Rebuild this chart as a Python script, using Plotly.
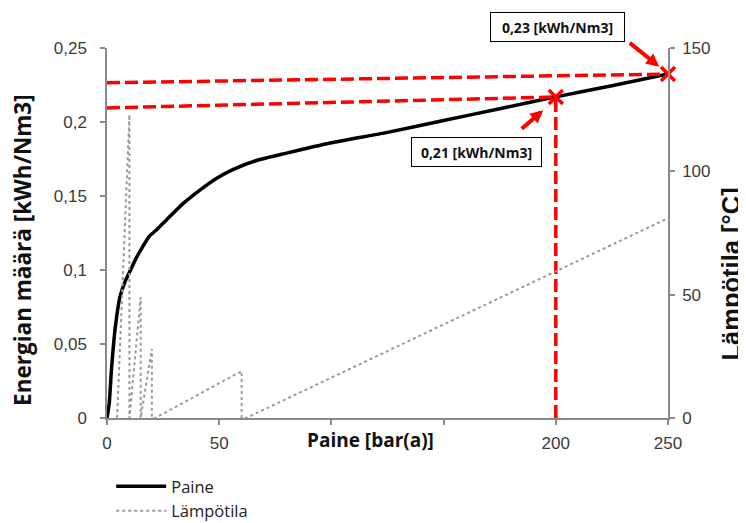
import plotly.graph_objects as go

# --- Data ---
paine_x = [0, 1, 2, 3.6, 5.8, 8, 10.5, 13, 16, 19, 22, 26.6, 34, 41.4, 48.9, 56.3,
           66.7, 80, 100, 125, 150, 175, 200, 225, 250]
paine_y = [0, 0.010, 0.033, 0.060, 0.082, 0.092, 0.100, 0.108, 0.116, 0.123, 0.127,
           0.134, 0.145, 0.154, 0.162, 0.168, 0.174, 0.179, 0.186, 0.193, 0.201,
           0.209, 0.217, 0.2245, 0.2324]

temp_x = [4.5, 10, 10, 15, 15, 20, 20, 21.5, 60, 60, 62, 250]
temp_y = [0, 123, 0, 49, 0, 28, 0, 0, 19, 0, 0, 81]

marker_x = [200, 250]
marker_y = [0.2169, 0.2324]

guide_top_x = [0, 250]
guide_top_y = [0.2265, 0.2324]
guide_low_x = [0, 200]
guide_low_y = [0.2095, 0.2169]
guide_vert_x = [200, 200]
guide_vert_y = [0, 0.2169]

x_tickvals = [0, 50, 100, 150, 200, 250]
x_ticktext = ["0", "50", "", "", "200", "250"]
y_tickvals = [0, 0.05, 0.1, 0.15, 0.2, 0.25]
y_ticktext = ["0", "0,05", "0,1", "0,15", "0,2", "0,25"]
y2_tickvals = [0, 50, 100, 150]
y2_ticktext = ["0", "50", "100", "150"]

label_top = "0,23 [kWh/Nm3]"
label_low = "0,21 [kWh/Nm3]"

RED = "#ff0000"
AXIS = "#8a8a8a"
TICKFONT = dict(family="Liberation Sans, Arial", size=17, color="#3a3a3a")

fig = go.Figure()

fig.add_trace(go.Scatter(x=paine_x, y=paine_y, mode="lines", name="Paine",
                         line=dict(color="black", width=3.5, shape="spline", smoothing=0.6)))
fig.add_trace(go.Scatter(x=temp_x, y=temp_y, mode="lines", name="Lämpötila", yaxis="y2",
                         line=dict(color="#9a9a9a", width=2, dash="dot")))

dash_style = dict(color=RED, width=3.5, dash="13px,5px")
for gx, gy in [(guide_top_x, guide_top_y), (guide_low_x, guide_low_y), (guide_vert_x, guide_vert_y)]:
    fig.add_trace(go.Scatter(x=gx, y=gy, mode="lines", line=dash_style,
                             showlegend=False, hoverinfo="skip", cliponaxis=False))

fig.add_trace(go.Scatter(x=marker_x, y=marker_y, mode="markers", showlegend=False,
                         cliponaxis=False,
                         marker=dict(symbol="x-thin", size=14, line=dict(color=RED, width=3.5))))

axis_common = dict(showgrid=False, zeroline=False, showline=True, linecolor=AXIS, linewidth=1.5,
                   ticks="outside", ticklen=5, tickcolor=AXIS, tickwidth=1.5,
                   tickfont=TICKFONT, automargin=False)

# The page body adds an 8px offset, so the figure is 738x515 and sits at (8, 8).
fig.update_layout(
    width=738, height=515,
    margin=dict(l=99, r=78, t=40, b=105, autoexpand=False),
    paper_bgcolor="white", plot_bgcolor="white",
    separators=", ",
    showlegend=True,
    legend=dict(x=0.0075, y=-0.138, xanchor="left", yanchor="top",
                font=dict(family="Open Sans", size=16.5, color="#222222"),
                tracegroupgap=0, itemwidth=50, bgcolor="rgba(0,0,0,0)"),
    xaxis=dict(range=[0, 250], tickvals=x_tickvals, ticktext=x_ticktext,
               ticklabelstandoff=4, **axis_common),
    yaxis=dict(range=[0, 0.25], tickvals=y_tickvals, ticktext=y_ticktext,
               ticklabelstandoff=10, **axis_common),
    yaxis2=dict(range=[0, 150], tickvals=y2_tickvals, ticktext=y2_ticktext,
                overlaying="y", side="right", ticklabelstandoff=4, **axis_common),
)

annotations = [
    dict(text="<b>Energian määrä [kWh/Nm3]</b>", xref="paper", yref="paper",
         x=-0.151, y=0.455, textangle=-90, showarrow=False,
         font=dict(family="Open Sans", size=22.5, color="#111111"),
         xanchor="center", yanchor="middle"),
    dict(text="<b>Lämpötila [°C]</b>", xref="paper", yref="paper",
         x=1.113, y=0.389, textangle=-90, showarrow=False,
         font=dict(family="Liberation Sans, Arial", size=25.5, color="#111111"),
         xanchor="center", yanchor="middle"),
    dict(text="<b>Paine [bar(a)]</b>", xref="paper", yref="paper",
         x=0.469, y=-0.0595, showarrow=False,
         font=dict(family="Open Sans", size=19, color="#111111"),
         xanchor="center", yanchor="middle"),
    dict(text="<b>" + label_top + "</b>", xref="paper", yref="paper",
         x=0.803, y=1.0568, showarrow=False, xanchor="center", yanchor="middle",
         font=dict(family="Open Sans", size=14, color="#111111"),
         bordercolor="black", borderwidth=1, borderpad=3, bgcolor="white",
         width=127, height=22),
    dict(text="<b>" + label_low + "</b>", xref="paper", yref="paper",
         x=0.6595, y=0.719, showarrow=False, xanchor="center", yanchor="middle",
         font=dict(family="Open Sans", size=14, color="#111111"),
         bordercolor="black", borderwidth=1, borderpad=3, bgcolor="white",
         width=123, height=22),
    dict(text="", x=246.1, y=0.2374, xref="x", yref="y", showarrow=True,
         ax=-31, ay=-25, arrowhead=2, arrowsize=0.65, arrowwidth=4, arrowcolor=RED),
    dict(text="", x=194.4, y=0.208, xref="x", yref="y", showarrow=True,
         ax=-23, ay=20, arrowhead=2, arrowsize=0.65, arrowwidth=4, arrowcolor=RED),
]
fig.update_layout(annotations=annotations)

fig.write_html("out.html")
